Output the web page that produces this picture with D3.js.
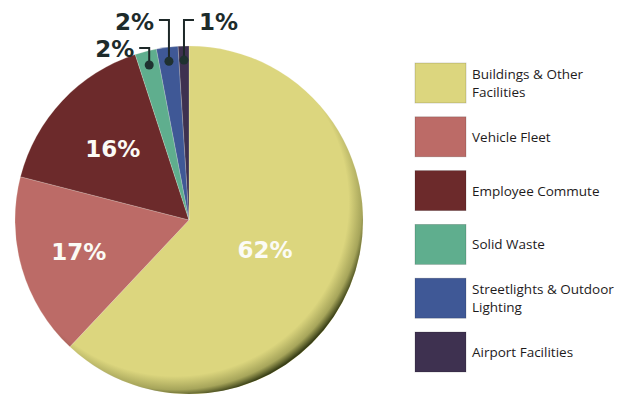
<!DOCTYPE html>
<html>
<head>
<meta charset="utf-8">
<script src="https://cdn.jsdelivr.net/npm/d3@7"></script>
<style>
  body { margin: 0; background: #fff; }
  svg { display: block; }
  .legend text { font-family: "Open Sans", "Noto Sans", sans-serif; font-size: 13.5px; fill: #1e1b1c; }
  .pct { font-family: "DejaVu Sans", sans-serif; font-weight: bold; }
</style>
</head>
<body>
<div class="chart-container"></div>
<script>
// slices, clockwise from 12 o'clock
const categories = ["Buildings & Other\nFacilities", "Vehicle Fleet", "Employee Commute",
  "Solid Waste", "Streetlights & Outdoor\nLighting", "Airport Facilities"];
const shares = [62, 17, 16, 2, 2, 1];
const pctLabels = ["62%", "17%", "16%", "2%", "2%", "1%"];
const colors = ["#dcd67e", "#bc6b67", "#6c2a2b", "#5fae8e", "#3f5896", "#3e3150"];

const w = 629, h = 396;
const cx = 189, cy = 220, r = 174;

const svg = d3.select(".chart-container").append("svg")
  .attr("width", w).attr("height", h);

const defs = svg.append("defs");
const rim = defs.append("radialGradient").attr("id", "rim")
  .attr("cx", 0.46).attr("cy", 0.45).attr("r", 0.56);
rim.append("stop").attr("offset", "0%").attr("stop-color", "#2a3308").attr("stop-opacity", 0);
rim.append("stop").attr("offset", "89%").attr("stop-color", "#2a3308").attr("stop-opacity", 0);
rim.append("stop").attr("offset", "96%").attr("stop-color", "#2a3308").attr("stop-opacity", 0.3);
rim.append("stop").attr("offset", "100%").attr("stop-color", "#1e2606").attr("stop-opacity", 0.85);

const pie = d3.pie().sort(null).value(d => d)(shares);
const arc = d3.arc().innerRadius(0).outerRadius(r);

const chart = svg.append("g").attr("transform", `translate(${cx},${cy})`);

chart.selectAll("path.slice")
  .data(pie)
  .enter()
  .append("path")
  .attr("class", "slice")
  .attr("d", arc)
  .attr("fill", (d, i) => colors[i])
  .attr("stroke", "#f4f1e0")
  .attr("stroke-opacity", 0.35)
  .attr("stroke-width", 0.6);

// edge shading
chart.append("circle").attr("r", r).attr("fill", "url(#rim)");

// big labels inside
const innerR = [0.47, 0.66, 0.6];
chart.selectAll("text.inner")
  .data(pie.slice(0, 3))
  .enter()
  .append("text")
  .attr("class", "pct inner")
  .attr("transform", (d, i) => {
    const rr = r * innerR[i];
    const c = d3.arc().innerRadius(rr).outerRadius(rr).centroid(d);
    return `translate(${c[0]},${c[1]})`;
  })
  .attr("text-anchor", "middle")
  .attr("dy", "0.36em")
  .attr("font-size", 23)
  .attr("fill", "#fbfbf5")
  .text((d, i) => pctLabels[i]);

// small slices: dot + elbow leader + label
const elbowY = [48, 20, 20];
const dir = [-1, -1, 1];
const dotArc = d3.arc().innerRadius(r - 14).outerRadius(r - 14);
const small = pie.slice(3);

small.forEach((d, k) => {
  const i = k + 3;
  const p = dotArc.centroid(d);
  const x = cx + p[0], y = cy + p[1];
  const ex = x + dir[k] * 10;
  svg.append("path")
    .attr("d", `M${x},${y}V${elbowY[k]}H${ex}`)
    .attr("fill", "none")
    .attr("stroke", "#1d2828")
    .attr("stroke-width", 2);
  svg.append("circle")
    .attr("cx", x).attr("cy", y).attr("r", 4.5)
    .attr("fill", "#1f3130");
  svg.append("text")
    .attr("class", "pct")
    .attr("x", ex + dir[k] * 5)
    .attr("y", elbowY[k] + (k === 0 ? 9 : 10))
    .attr("text-anchor", dir[k] < 0 ? "end" : "start")
    .attr("font-size", 23)
    .attr("fill", "#1d2b2b")
    .text(pctLabels[i]);
});

// legend
const legend = svg.append("g").attr("class", "legend")
  .attr("transform", "translate(415,63)");
const items = legend.selectAll("g.item")
  .data(categories)
  .enter()
  .append("g")
  .attr("class", "item")
  .attr("transform", (d, i) => `translate(0,${i * 53.8})`);

items.append("rect")
  .attr("width", 51).attr("height", 40)
  .attr("fill", (d, i) => colors[i])
  .attr("stroke", "#000")
  .attr("stroke-opacity", 0.2)
  .attr("stroke-width", 0.8);

items.each(function(d) {
  const lines = d.split("\n");
  const t = d3.select(this).append("text").attr("x", 57);
  const y0 = 20 + 5 - (lines.length - 1) * 9.25;
  lines.forEach((ln, j) => {
    t.append("tspan").attr("x", 57).attr("y", y0 + j * 18.5).text(ln);
  });
});
</script>
</body>
</html>
